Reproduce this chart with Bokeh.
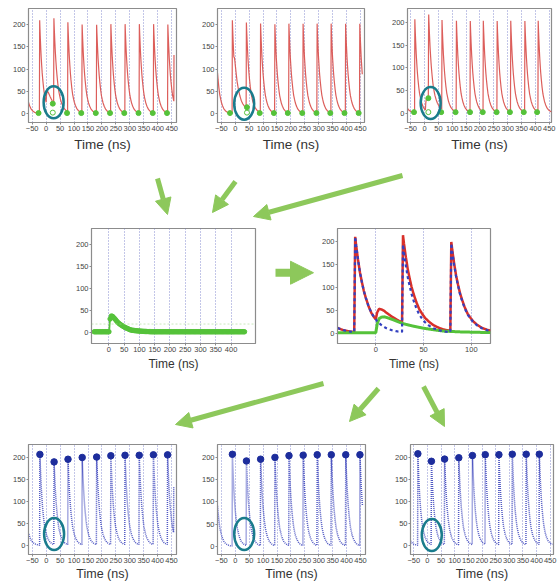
import numpy as np
from bokeh.plotting import figure
from bokeh.layouts import column, row
from bokeh.models import Range1d, Arrow, NormalHead, Spacer, FixedTicker, Span
from bokeh.embed import file_html
from bokeh.resources import INLINE

# ---------------- data ----------------
# pulse shape (fast detector pulse), time after peak (ns) -> fraction of peak
FAST_T = [-1.0, 0.0, 1, 3, 5, 7, 9, 11, 14, 17, 20, 23, 27, 32, 38, 45, 55, 70]
FAST_V = [0.0, 1.0, 0.91, 0.76, 0.63, 0.53, 0.44, 0.37, 0.28, 0.21, 0.165, 0.125,
          0.088, 0.055, 0.032, 0.017, 0.007, 0.0]
# pile-up (slow) pulse shape, time after start (ns) -> fraction of peak
SLOW_T = [-0.5, 0.0, 1.5, 3.5, 6, 9, 13, 19, 24, 29, 35, 40, 50, 61, 71, 89, 110, 140]
SLOW_V = [0.0, 0.0, 0.55, 0.89, 0.98, 1.0, 0.93, 0.80, 0.68, 0.57, 0.48, 0.41,
          0.29, 0.19, 0.11, 0.06, 0.03, 0.0]

X_TICKS = [-50, 0, 50, 100, 150, 200, 250, 300, 350, 400, 450]
X_TICKS_MID = [0, 50, 100, 150, 200, 250, 300, 350, 400]
X_TICKS_ZOOM = [0, 50, 100]
Y_TICKS = [0, 50, 100, 150, 200]

# top-left (raw, red)
TL_T = [-86, -23, 28, 78, 129, 181, 232, 283, 334, 385, 436, 458.5]
TL_H = [208, 208, 190, 199, 197, 197, 198, 198, 198, 198, 197, 208]
TL_PILE_T, TL_PILE_H = [0], [35]
TL_GX = [-27, 75, 126, 178, 229, 280, 331, 382, 433]
TL_GY = [2, 2, 2, 2, 2, 2, 2, 2, 2]
TL_DOT = ([24], [23])
TL_RING = ([24], [3])
TL_SPAN = (-63, 458)
# top-middle
TM_T = [-73, -10.5, 40, 91, 142.5, 193, 244, 294.5, 345, 397, 448]
TM_H = [208, 208, 191, 198, 198, 199, 199, 199, 199, 199, 199]
TM_PILE_T, TM_PILE_H = [-5], [30]
TM_GX = [-19, 88, 139, 189, 241, 292, 342, 393, 444]
TM_GY = [2, 2, 2, 2, 2, 2, 2, 2, 2]
TM_DOT = ([42], [15])
TM_RING = ([42], [3])
TM_SPAN = (-64, 457)
# top-right
TR_T = [-95, -35, 14.7, 63, 115, 165, 212, 262, 311, 362, 410]
TR_H = [208, 207, 193, 198, 202, 202, 202, 202, 202, 202, 202]
TR_PILE_T, TR_PILE_H = [3], [30]
TR_GX = [-38, 60, 112, 164, 210, 260, 308, 358, 406]
TR_GY = [2, 2, 2, 2, 2, 2, 2, 2, 2]
TR_DOT = ([13.7], [33])
TR_RING = ([13.7], [2])
TR_SPAN = (-62, 458)
# bottom (pile-up corrected, blue) - same pulse times, fitted heights
BL_H = [208, 207, 190, 196, 200, 201, 204, 205, 205, 206, 206, 208]
BM_H = [208, 207, 192, 196, 200, 204, 205, 206, 206, 206, 206]
BR_H = [208, 208, 191, 196, 199, 204, 206, 206, 207, 207, 207]
# middle-left: isolated pile-up pulse (green)
ML_BASE = 2.5
ML_PILE_T, ML_PILE_H = [1], [36]
ML_SPAN = (-48, 446)
ML_LEVEL = 20
# middle-right: zoom of three pulses
MR_BLUE_T = [-72, -21.5, 28.5, 79]
MR_BLUE_H = [208, 208, 191, 194]
MR_PILE_T, MR_PILE_H = [0], [35]
MR_BASE = 0.7
MR_SPAN = (-40, 120)

# ellipse marks (centre in data units)
RINGS = {"tl": (27, 26), "tm": (32, 23), "tr": (22, 22),
         "bl": (28, 26), "bm": (32, 28), "br": (16, 24)}

# ---------------- styling ----------------
S = 1.0
RED = "#da5552"
RED_DARK = "#d8302a"
GREEN = "#55c23a"
BLUE_DOT = "#3d46bc"
BLUE_MARK = "#1d2d9c"
BLUE_DASH = "#3340c0"
TEAL = "#1a7c8c"
ARROW_G = "#8dc85b"
GRID = "#6a72c6"
FRAME = "#8c8c8c"
FONT = "Liberation Sans"


def sc(v):
    return int(round(v * S))


def wave(t, times, heights, shape_t, shape_v):
    y = np.zeros_like(t)
    for t0, h in zip(times, heights):
        y += h * np.interp(t - t0, shape_t, shape_v, left=0.0, right=0.0)
    return y


def panel(fx, fy, frame, xr, yr, xticks, label_fs, label_standoff=2):
    fx0, fx1 = fx
    fy0, fy1 = fy
    l, r, t, b = frame
    p = figure(width=sc(fx1) - sc(fx0), height=sc(fy1) - sc(fy0),
               x_range=Range1d(*xr), y_range=Range1d(*yr),
               output_backend="svg", toolbar_location=None,
               min_border_left=sc(l) - sc(fx0), min_border_right=sc(fx1) - sc(r),
               min_border_top=sc(t) - sc(fy0), min_border_bottom=sc(fy1) - sc(b))
    p.background_fill_color = "white"
    p.border_fill_color = "white"
    p.outline_line_color = FRAME
    p.outline_line_width = 1.2
    p.ygrid.visible = False
    p.xgrid.ticker = FixedTicker(ticks=xticks)
    p.xgrid.grid_line_color = GRID
    p.xgrid.grid_line_dash = "1 2"
    p.xgrid.grid_line_alpha = 0.8
    p.xaxis.ticker = FixedTicker(ticks=xticks)
    p.yaxis.ticker = FixedTicker(ticks=Y_TICKS)
    for ax in p.xaxis + p.yaxis:
        ax.axis_line_color = FRAME
        ax.major_tick_line_color = FRAME
        ax.major_tick_out = 2
        ax.major_tick_in = 0
        ax.minor_tick_line_color = None
        ax.major_label_text_font = FONT
        ax.major_label_text_font_size = "7.5px"
        ax.major_label_text_color = "#444444"
        ax.major_label_standoff = 1
    p.xaxis.axis_label = "Time (ns)"
    p.xaxis.axis_label_text_font = FONT
    p.xaxis.axis_label_text_font_size = label_fs
    p.xaxis.axis_label_text_font_style = "normal"
    p.xaxis.axis_label_text_color = "#333333"
    p.xaxis.axis_label_standoff = label_standoff
    return p


def ring(p, key):
    cx, cy = RINGS[key]
    p.ellipse(x=[cx], y=[cy], width=20 * S, height=32 * S, width_units="screen",
              height_units="screen", fill_color=None, line_color=TEAL, line_width=2.5)


def top_panel(fx, frame, xr, yr, T, H, PT, PH, GX, GY, DOT, RINGP, span, key):
    p = panel(fx, (0, 160), frame, xr, yr, X_TICKS, "13.5px", 3)
    t = np.arange(span[0], span[1] + 1e-9, 0.5)
    y = wave(t, T, H, FAST_T, FAST_V) + wave(t, PT, PH, SLOW_T, SLOW_V)
    p.line(t, y, line_color=RED, line_width=1.2, line_alpha=0.95)
    p.scatter(GX, GY, marker="circle", size=5, fill_color=GREEN, line_color=GREEN)
    p.scatter(DOT[0], DOT[1], marker="circle", size=5, fill_color=GREEN, line_color=GREEN)
    p.scatter(RINGP[0], RINGP[1], marker="circle", size=5, fill_color=None,
              line_color=GREEN, line_width=1)
    ring(p, key)
    return p


def bottom_panel(fx, frame, xr, yr, T, H, span, key):
    p = panel(fx, (435, 583), frame, xr, yr, X_TICKS, "12.5px", 1)
    t = np.arange(span[0], span[1] + 1e-9, 0.5)
    y = wave(t, T, H, FAST_T, FAST_V)
    p.line(t, y, line_color=BLUE_DOT, line_width=1.5, line_dash="1 1", line_alpha=0.9)
    p.scatter(T[1:11], H[1:11], marker="circle", size=6.5, fill_color=BLUE_MARK,
              line_color=BLUE_MARK)
    ring(p, key)
    return p


def blank(fx, fy):
    p = figure(width=sc(fx[1]) - sc(fx[0]), height=sc(fy[1]) - sc(fy[0]),
               x_range=Range1d(fx[0], fx[1]), y_range=Range1d(fy[1], fy[0]),
               x_axis_type=None, y_axis_type=None, output_backend="svg",
               toolbar_location=None, min_border=0)
    p.min_border_left = p.min_border_right = p.min_border_top = p.min_border_bottom = 0
    p.outline_line_color = None
    p.grid.visible = False
    p.background_fill_color = "white"
    p.border_fill_color = "white"
    return p


def arrow(p, x0, y0, x1, y1, lw=5, head=16):
    p.add_layout(Arrow(end=NormalHead(size=head * S, fill_color=ARROW_G, line_color=ARROW_G),
                       x_start=x0, y_start=y0, x_end=x1, y_end=y1,
                       line_color=ARROW_G, line_width=lw * S))


# ---------------- row 1 ----------------
p_tl = top_panel((0, 190), (28, 176, 7, 123), (-63, 467), (-19, 235), TL_T, TL_H,
                 TL_PILE_T, TL_PILE_H, TL_GX, TL_GY, TL_DOT, TL_RING, TL_SPAN, "tl")
p_tm = top_panel((190, 380), (217, 364, 7, 123), (-64, 465), (-19, 235), TM_T, TM_H,
                 TM_PILE_T, TM_PILE_H, TM_GX, TM_GY, TM_DOT, TM_RING, TM_SPAN, "tm")
p_tr = top_panel((380, 557), (407, 551, 8, 122), (-61.5, 458), (-21, 232), TR_T, TR_H,
                 TR_PILE_T, TR_PILE_H, TR_GX, TR_GY, TR_DOT, TR_RING, TR_SPAN, "tr")
row1 = row(p_tl, p_tm, p_tr)

# ---------------- arrows 1 ----------------
a1 = blank((0, 557), (160, 222))
arrow(a1, 157, 178, 167, 214)
arrow(a1, 235, 181, 212, 212)
arrow(a1, 402, 175, 253, 216)

# ---------------- row 2 ----------------
p_ml = panel((60, 262), (222, 378), (91, 255, 228, 343), (-57, 480), (-24, 236),
             X_TICKS_MID, "12px")
t = np.arange(ML_SPAN[0], ML_SPAN[1] + 1e-9, 1.0)
g = ML_BASE + wave(t, ML_PILE_T, ML_PILE_H, SLOW_T, SLOW_V)
p_ml.add_layout(Span(location=ML_LEVEL, dimension="width", line_color="#a5d98f",
                     line_dash="2 2", line_alpha=0.6, line_width=1))
p_ml.line(t, g, line_color=GREEN, line_width=1.8)
p_ml.scatter(t[::4], g[::4], marker="circle", size=4.5, fill_color=GREEN, line_color=GREEN)

am = blank((262, 314), (222, 378))
arrow(am, 275, 282, 313, 282, lw=8, head=23)

p_mr = panel((314, 510), (222, 378), (337, 490, 228, 343), (-40, 120), (-22.5, 228.5),
             X_TICKS_ZOOM, "12px")
t = np.arange(MR_SPAN[0], MR_SPAN[1] + 1e-9, 0.25)
blue = wave(t, MR_BLUE_T, MR_BLUE_H, FAST_T, FAST_V)
pile = wave(t, MR_PILE_T, MR_PILE_H, SLOW_T, SLOW_V)
p_mr.line(t, blue + pile, line_color=RED_DARK, line_width=2.5)
p_mr.line(t, MR_BASE + pile, line_color=GREEN, line_width=3)
p_mr.line(t, blue, line_color=BLUE_DASH, line_width=2.2, line_dash="3 3")

row2 = row(Spacer(width=sc(60), height=sc(378) - sc(222)), p_ml, am, p_mr,
           Spacer(width=sc(557) - sc(510), height=sc(378) - sc(222)))

# ---------------- arrows 2 ----------------
a2 = blank((0, 557), (378, 435))
arrow(a2, 323, 383, 175, 424)
arrow(a2, 378, 388, 349, 421)
arrow(a2, 423, 386, 444, 426)

# ---------------- row 3 ----------------
p_bl = bottom_panel((0, 190), (28, 176, 444, 555), (-64, 468), (-20.5, 229.5),
                    TL_T, BL_H, TL_SPAN, "bl")
p_bm = bottom_panel((190, 380), (217, 365, 444, 555), (-64, 468), (-18, 229),
                    TM_T, BM_H, TM_SPAN, "bm")
p_br = bottom_panel((380, 557), (410, 553, 444, 555), (-62, 462), (-20, 229),
                    TR_T, BR_H, TR_SPAN, "br")
row3 = row(p_bl, p_bm, p_br)

page = column(row1, a1, row2, a2, row3)
open("out.html", "w").write(file_html(page, INLINE))
